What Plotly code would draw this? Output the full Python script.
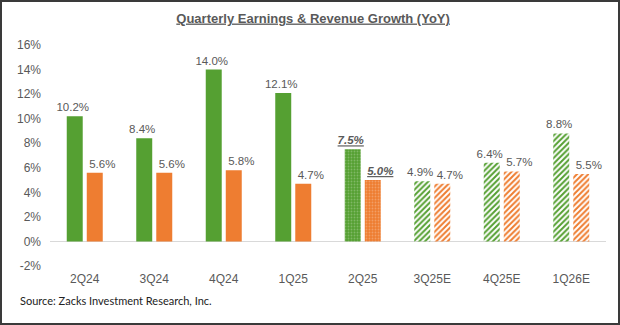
import plotly.graph_objects as go

quarters = ["2Q24", "3Q24", "4Q24", "1Q25", "2Q25", "3Q25E", "4Q25E", "1Q26E"]
earnings = [10.2, 8.4, 14.0, 12.1, 7.5, 4.9, 6.4, 8.8]
revenue = [5.6, 5.6, 5.8, 4.7, 5.0, 4.7, 5.7, 5.5]
status = ["actual", "actual", "actual", "actual", "current", "estimate", "estimate", "estimate"]

GREEN = "#55A032"
ORANGE = "#EE7D31"
GRAY = "#595959"
FONT = "Liberation Sans"

W, H = 620, 325
ML, MR, MT, MB = 50, 14, 45, 59

BAR_W = 0.23
# (bar offset, label offset) in category units, like the Excel layout
OFFS = {"Earnings": (-0.259, -0.288), "Revenue": (0.029, 0.137)}

STYLES = {
    "actual": dict(shape="", fill="replace", fg=None, size=4, sol=0.3),
    "current": dict(shape=".", fill="overlay", fg="rgba(255,255,255,0.5)", size=3, sol=0.3),
    "estimate": dict(shape="/", fill="replace", fg=None, size=4, sol=0.5),
}

fig = go.Figure()
for name, vals, col in [("Earnings", earnings, GREEN), ("Revenue", revenue, ORANGE)]:
    boff, loff = OFFS[name]
    for st, sty in STYLES.items():
        xs = [q for q, s in zip(quarters, status) if s == st]
        ys = [v for v, s in zip(vals, status) if s == st]
        pat = dict(shape=sty["shape"], size=sty["size"], solidity=sty["sol"], fillmode=sty["fill"])
        if sty["fg"]:
            pat["fgcolor"] = sty["fg"]
        fig.add_trace(go.Bar(
            x=xs, y=ys, name=name, offset=boff, width=BAR_W,
            marker=dict(color=col, line=dict(width=0), pattern=pat),
        ))
    # value labels
    txt = [f"{v:.1f}%" for v in vals]
    txt = [f"<b><i><u>{t}</u></i></b>" if s == "current" else t for t, s in zip(txt, status)]
    fig.add_trace(go.Bar(
        x=quarters, y=vals, name=name + " labels", offset=loff, width=BAR_W,
        marker=dict(color="rgba(0,0,0,0)", line=dict(width=0)),
        text=txt, textposition="outside", cliponaxis=False, constraintext="none",
        textfont=dict(family=FONT, size=11.5, color=GRAY), hoverinfo="skip",
    ))

fig.update_layout(
    width=W, height=H,
    margin=dict(l=ML, r=MR, t=MT, b=MB),
    paper_bgcolor="white", plot_bgcolor="white",
    barmode="overlay",
    showlegend=False,
    title=dict(text="<b><u>Quarterly Earnings & Revenue Growth (YoY)</u></b>",
               x=0.505, xanchor="center", y=1 - 18 / H, yanchor="middle",
               font=dict(family=FONT, size=13, color=GRAY)),
    font=dict(family=FONT, size=12, color=GRAY),
    xaxis=dict(categoryorder="array", categoryarray=quarters, range=[-0.5, len(quarters) - 0.5],
               showgrid=False, showline=False, ticks="", tickfont=dict(family=FONT, size=12, color=GRAY),
               ticklabelstandoff=4),
    yaxis=dict(range=[-2, 16], tickmode="array", tickvals=list(range(-2, 17, 2)),
               ticktext=[f"{v}%" for v in range(-2, 17, 2)],
               showgrid=False, zeroline=True, zerolinecolor="#D9D9D9", zerolinewidth=1,
               showline=False, ticks="", tickfont=dict(family=FONT, size=12, color=GRAY),
               ticklabelstandoff=8),
)

pw, ph = W - ML - MR, H - MT - MB
fig.add_shape(type="rect", xref="paper", yref="paper",
              x0=(1 - ML) / pw, x1=(W - 1 - ML) / pw,
              y0=-(MB - 1) / ph, y1=1 + (MT - 1) / ph,
              line=dict(color="#3A3A3A", width=2), fillcolor="rgba(0,0,0,0)", layer="above")

fig.add_annotation(text="Source: Zacks Investment Research, Inc.", xref="paper", yref="paper",
                   x=(18 - ML) / pw, xanchor="left", y=-(300 - (H - MB)) / ph, yanchor="middle",
                   showarrow=False, font=dict(family="Lato", size=11, color="#222222"))

fig.write_html("out.html")
